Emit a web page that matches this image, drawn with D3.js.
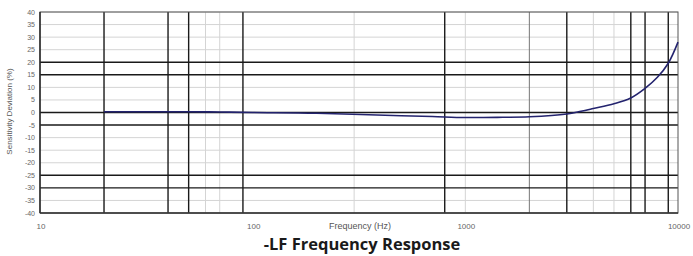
<!DOCTYPE html>
<html lang="en">
<head>
    <meta charset="UTF-8">
    <title>LF Frequency Response</title>
    <style>
        body { margin: 0; background: #fff; }
        svg { display: block; }
    </style>
</head>
<body>
<script src="https://cdn.jsdelivr.net/npm/d3@7"></script>
<script type="text/javascript">
    // Width and height
    var w = 693;
    var h = 256;
    var plot = { left: 40, right: 678, top: 12, bottom: 213 };

    // curve
    var freq = [20, 30, 50, 70, 100, 200, 500, 700, 1000, 1500, 2000, 3000, 3500, 4000, 5000, 6000, 7000, 8000, 9000, 10000];
    var deviation = [0.3, 0.3, 0.3, 0.2, 0.0, -0.3, -1.3, -1.6, -2.0, -1.9, -1.7, -0.6, 0.5, 1.6, 3.5, 5.8, 9.6, 14.0, 19.6, 28.0];

    // ticks and grid
    var xTicks = [10, 100, 1000, 10000];
    var yTicks = [40, 35, 30, 25, 20, 15, 10, 5, 0, -5, -10, -15, -20, -25, -30, -35, -40];
    var lightX = [60, 70, 300, 1000, 4000, 5000];
    var midX = [2000];
    var darkX = [20, 40, 50, 90, 800, 3000, 6000, 7000, 9000];
    var darkY = [20, 15, 0, -5, -25, -30];

    var xScale = d3.scaleLog()
        .domain([10, 10000])
        .range([plot.left, plot.right]);
    var yScale = d3.scaleLinear()
        .domain([-40, 40])
        .range([plot.bottom, plot.top]);

    var svg = d3.select("body")
        .append("svg")
        .attr("width", w)
        .attr("height", h);

    // light grid
    svg.selectAll("line.gy")
        .data(yTicks.filter(function(d) { return darkY.indexOf(d) < 0; }))
        .enter()
        .append("line")
        .attr("class", "gy")
        .attr("x1", plot.left).attr("x2", plot.right)
        .attr("y1", function(d) { return yScale(d); })
        .attr("y2", function(d) { return yScale(d); })
        .attr("stroke", "#d4d4d4")
        .attr("stroke-width", 1);

    svg.selectAll("line.gx")
        .data(lightX)
        .enter()
        .append("line")
        .attr("class", "gx")
        .attr("x1", function(d) { return xScale(d); })
        .attr("x2", function(d) { return xScale(d); })
        .attr("y1", plot.top).attr("y2", plot.bottom)
        .attr("stroke", "#d4d4d4")
        .attr("stroke-width", 1);

    svg.selectAll("line.mx")
        .data(midX)
        .enter()
        .append("line")
        .attr("class", "mx")
        .attr("x1", function(d) { return xScale(d); })
        .attr("x2", function(d) { return xScale(d); })
        .attr("y1", plot.top).attr("y2", plot.bottom)
        .attr("stroke", "#777")
        .attr("stroke-width", 1);

    // dark lines
    svg.selectAll("line.dy")
        .data(darkY)
        .enter()
        .append("line")
        .attr("class", "dy")
        .attr("x1", plot.left).attr("x2", plot.right)
        .attr("y1", function(d) { return yScale(d); })
        .attr("y2", function(d) { return yScale(d); })
        .attr("stroke", "#1a1a1a")
        .attr("stroke-width", 1.4);

    svg.selectAll("line.dx")
        .data(darkX)
        .enter()
        .append("line")
        .attr("class", "dx")
        .attr("x1", function(d) { return xScale(d); })
        .attr("x2", function(d) { return xScale(d); })
        .attr("y1", plot.top).attr("y2", plot.bottom)
        .attr("stroke", "#1a1a1a")
        .attr("stroke-width", 1.4);

    // frame
    svg.append("rect")
        .attr("x", plot.left)
        .attr("y", plot.top)
        .attr("width", plot.right - plot.left)
        .attr("height", plot.bottom - plot.top)
        .attr("fill", "none")
        .attr("stroke", "#555")
        .attr("stroke-width", 1);
    svg.append("line")
        .attr("x1", plot.left).attr("x2", plot.left)
        .attr("y1", plot.top).attr("y2", plot.bottom)
        .attr("stroke", "#222").attr("stroke-width", 1.4);
    svg.append("line")
        .attr("x1", plot.left).attr("x2", plot.right)
        .attr("y1", plot.bottom).attr("y2", plot.bottom)
        .attr("stroke", "#333").attr("stroke-width", 1.6);

    // response curve
    var points = freq.map(function(f, i) { return [f, deviation[i]]; });
    var line = d3.line()
        .x(function(d) { return xScale(d[0]); })
        .y(function(d) { return yScale(d[1]); })
        .curve(d3.curveCatmullRom);
    svg.append("path")
        .datum(points)
        .attr("d", line)
        .attr("fill", "none")
        .attr("stroke", "#23236e")
        .attr("stroke-width", 1.6);

    // y tick labels
    svg.selectAll("text.yt")
        .data(yTicks)
        .enter()
        .append("text")
        .attr("class", "yt")
        .attr("x", 35)
        .attr("y", function(d) { return yScale(d) + 2.5; })
        .attr("text-anchor", "end")
        .attr("font-family", "Liberation Sans, Arial, sans-serif")
        .attr("font-size", "7px")
        .attr("fill", "#666")
        .text(function(d) { return d; });

    // x tick labels
    svg.selectAll("text.xt")
        .data(xTicks)
        .enter()
        .append("text")
        .attr("class", "xt")
        .attr("x", function(d) { return xScale(d) + 1; })
        .attr("y", 229)
        .attr("text-anchor", "middle")
        .attr("font-family", "Liberation Sans, Arial, sans-serif")
        .attr("font-size", "8px")
        .attr("fill", "#666")
        .text(function(d) { return d; });

    // axis titles
    svg.append("text")
        .attr("x", 360)
        .attr("y", 229)
        .attr("text-anchor", "middle")
        .attr("font-family", "Liberation Sans, Arial, sans-serif")
        .attr("font-size", "9px")
        .attr("fill", "#555")
        .text("Frequency (Hz)");

    svg.append("text")
        .attr("transform", "translate(12," + (yScale(0) - 1) + ") rotate(-90)")
        .attr("text-anchor", "middle")
        .attr("font-family", "Liberation Sans, Arial, sans-serif")
        .attr("font-size", "8px")
        .attr("fill", "#555")
        .text("Sensitivity Deviation (%)");

    // chart title
    svg.append("text")
        .attr("x", 362)
        .attr("y", 250)
        .attr("text-anchor", "middle")
        .attr("font-family", "Open Sans, sans-serif")
        .attr("font-weight", "bold")
        .attr("font-size", "16.5px")
        .attr("fill", "#1a1a1a")
        .text("-LF Frequency Response");
</script>
</body>
</html>
